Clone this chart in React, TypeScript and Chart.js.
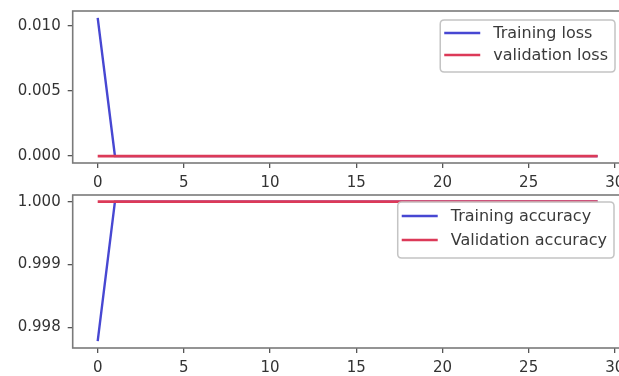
import React, { useEffect, useRef } from "react";
import { Chart, registerables } from "chart.js";

Chart.register(...registerables);

const epochs = [0, 1, 2, 3, 4, 5, 6, 7, 8, 9, 10, 11, 12, 13, 14, 15, 16, 17, 18, 19, 20, 21, 22, 23, 24, 25, 26, 27, 28, 29];
const trainingLoss = [0.0106, 0.00001, 0, 0, 0, 0, 0, 0, 0, 0, 0, 0, 0, 0, 0, 0, 0, 0, 0, 0, 0, 0, 0, 0, 0, 0, 0, 0, 0, 0];
const validationLoss = [0, 0, 0, 0, 0, 0, 0, 0, 0, 0, 0, 0, 0, 0, 0, 0, 0, 0, 0, 0, 0, 0, 0, 0, 0, 0, 0, 0, 0, 0];
const trainingAccuracy = [0.99778, 1, 1, 1, 1, 1, 1, 1, 1, 1, 1, 1, 1, 1, 1, 1, 1, 1, 1, 1, 1, 1, 1, 1, 1, 1, 1, 1, 1, 1];
const validationAccuracy = [1, 1, 1, 1, 1, 1, 1, 1, 1, 1, 1, 1, 1, 1, 1, 1, 1, 1, 1, 1, 1, 1, 1, 1, 1, 1, 1, 1, 1, 1];
const xTicks = [0, 5, 10, 15, 20, 25, 30];
const lossTicks = [0, 0.005, 0.01];
const accTicks = [0.998, 0.999, 1.0];
const lossLabels = ["Training loss", "validation loss"];
const accLabels = ["Training accuracy", "Validation accuracy"];

const BLUE = "#4747d2";
const RED = "#dc3a58";
const FONT = '"DejaVu Sans", sans-serif';

const frameLegendPlugin = {
  id: "frameLegend",
  afterDraw(chart: any, _args: any, opts: any) {
    const { ctx, chartArea } = chart;
    ctx.save();
    ctx.strokeStyle = "#7a7a7a";
    ctx.lineWidth = 1.6;
    ctx.strokeRect(chartArea.left, chartArea.top, chartArea.right - chartArea.left, chartArea.bottom - chartArea.top);
    const items: { label: string; color: string }[] = opts.items || [];
    const fs = opts.fontSize || 16;
    ctx.font = `${fs}px ${FONT}`;
    let tw = 0;
    items.forEach((it) => (tw = Math.max(tw, ctx.measureText(it.label).width)));
    const handle = 36;
    const gap = 13;
    const padL = 4;
    const padR = 7;
    const rowH = opts.rowH || 23;
    const w = padL + handle + gap + tw + padR;
    const h = items.length * rowH + 8;
    const x = opts.right - w;
    const y = chartArea.top + opts.top;
    const r = 4;
    ctx.beginPath();
    ctx.moveTo(x + r, y);
    ctx.lineTo(x + w - r, y);
    ctx.quadraticCurveTo(x + w, y, x + w, y + r);
    ctx.lineTo(x + w, y + h - r);
    ctx.quadraticCurveTo(x + w, y + h, x + w - r, y + h);
    ctx.lineTo(x + r, y + h);
    ctx.quadraticCurveTo(x, y + h, x, y + h - r);
    ctx.lineTo(x, y + r);
    ctx.quadraticCurveTo(x, y, x + r, y);
    ctx.closePath();
    ctx.fillStyle = "rgba(255,255,255,0.85)";
    ctx.fill();
    ctx.strokeStyle = "#c4c4c4";
    ctx.lineWidth = 1.5;
    ctx.stroke();
    items.forEach((it, i) => {
      const cy = y + 2 + rowH * i + rowH / 2;
      ctx.strokeStyle = it.color;
      ctx.lineWidth = 2.6;
      ctx.beginPath();
      ctx.moveTo(x + padL, cy);
      ctx.lineTo(x + padL + handle, cy);
      ctx.stroke();
      ctx.fillStyle = "#3a3a3a";
      ctx.textBaseline = "middle";
      ctx.textAlign = "left";
      ctx.fillText(it.label, x + padL + handle + gap, cy + 1);
    });
    ctx.restore();
  },
};

function makeConfig(
  a: number[],
  b: number[],
  names: string[],
  yMin: number,
  yMax: number,
  yTicks: number[],
  padTop: number,
  xHeight: number,
  legendTop: number,
  legendRight: number,
  rowH: number
): any {
  const pts = (arr: number[]) => epochs.map((e, i) => ({ x: e, y: arr[i] }));
  return {
    type: "line",
    data: {
      datasets: [
        { label: names[1], data: pts(b), borderColor: RED, borderWidth: 2.8, pointRadius: 0, tension: 0, order: 0 },
        { label: names[0], data: pts(a), borderColor: BLUE, borderWidth: 2.4, pointRadius: 0, tension: 0, order: 1 },
      ],
    },
    options: {
      animation: false,
      responsive: false,
      devicePixelRatio: 1,
      layout: { padding: { left: 0, top: padTop, right: 17.4, bottom: 0 } },
      plugins: {
        legend: { display: false },
        tooltip: { enabled: false },
        frameLegend: {
          items: [
            { label: names[0], color: BLUE },
            { label: names[1], color: RED },
          ],
          top: legendTop,
          right: legendRight,
          rowH,
          fontSize: 16,
        },
      },
      scales: {
        x: {
          type: "linear",
          min: -1.45,
          max: 30.45,
          afterBuildTicks: (s: any) => {
            s.ticks = xTicks.map((v) => ({ value: v }));
          },
          afterFit: (s: any) => {
            s.height = xHeight;
            s.paddingLeft = 0;
            s.paddingRight = 0;
          },
          border: { display: false },
          grid: { display: true, drawOnChartArea: false, drawTicks: true, tickLength: 5, color: "#555", lineWidth: 1.3 },
          ticks: { color: "#333", font: { family: FONT, size: 15 }, padding: 6, maxRotation: 0, autoSkip: false, callback: (v: any) => String(v) },
        },
        y: {
          type: "linear",
          min: yMin,
          max: yMax,
          afterBuildTicks: (s: any) => {
            s.ticks = yTicks.map((v) => ({ value: v }));
          },
          afterFit: (s: any) => {
            s.width = 72.7;
            s.paddingTop = 0;
            s.paddingBottom = 0;
          },
          border: { display: false },
          grid: { display: true, drawOnChartArea: false, drawTicks: true, tickLength: 5, color: "#555", lineWidth: 1.3 },
          ticks: { color: "#333", font: { family: FONT, size: 15 }, padding: 7, autoSkip: false, callback: (v: any) => Number(v).toFixed(3) },
        },
      },
    },
    plugins: [frameLegendPlugin],
  };
}

export default function App() {
  const topRef = useRef<HTMLCanvasElement>(null);
  const botRef = useRef<HTMLCanvasElement>(null);

  useEffect(() => {
    const c1 = new Chart(
      topRef.current!,
      makeConfig(trainingLoss, validationLoss, lossLabels, -0.00053, 0.01113, lossTicks, 11, 27, 9, 615, 22)
    );
    const c2 = new Chart(
      botRef.current!,
      makeConfig(trainingAccuracy, validationAccuracy, accLabels, 0.99767, 1.000107, accTicks, 5, 28, 7, 614, 24)
    );
    return () => {
      c1.destroy();
      c2.destroy();
    };
  }, []);

  return (
    <div style={{ position: "fixed", left: 0, top: 0, width: 619, height: 376, overflow: "hidden", background: "#fff" }}>
      <canvas ref={topRef} width={640} height={190} style={{ position: "absolute", left: 0, top: 0, width: 640, height: 190 }} />
      <canvas ref={botRef} width={640} height={186} style={{ position: "absolute", left: 0, top: 190, width: 640, height: 186 }} />
    </div>
  );
}
